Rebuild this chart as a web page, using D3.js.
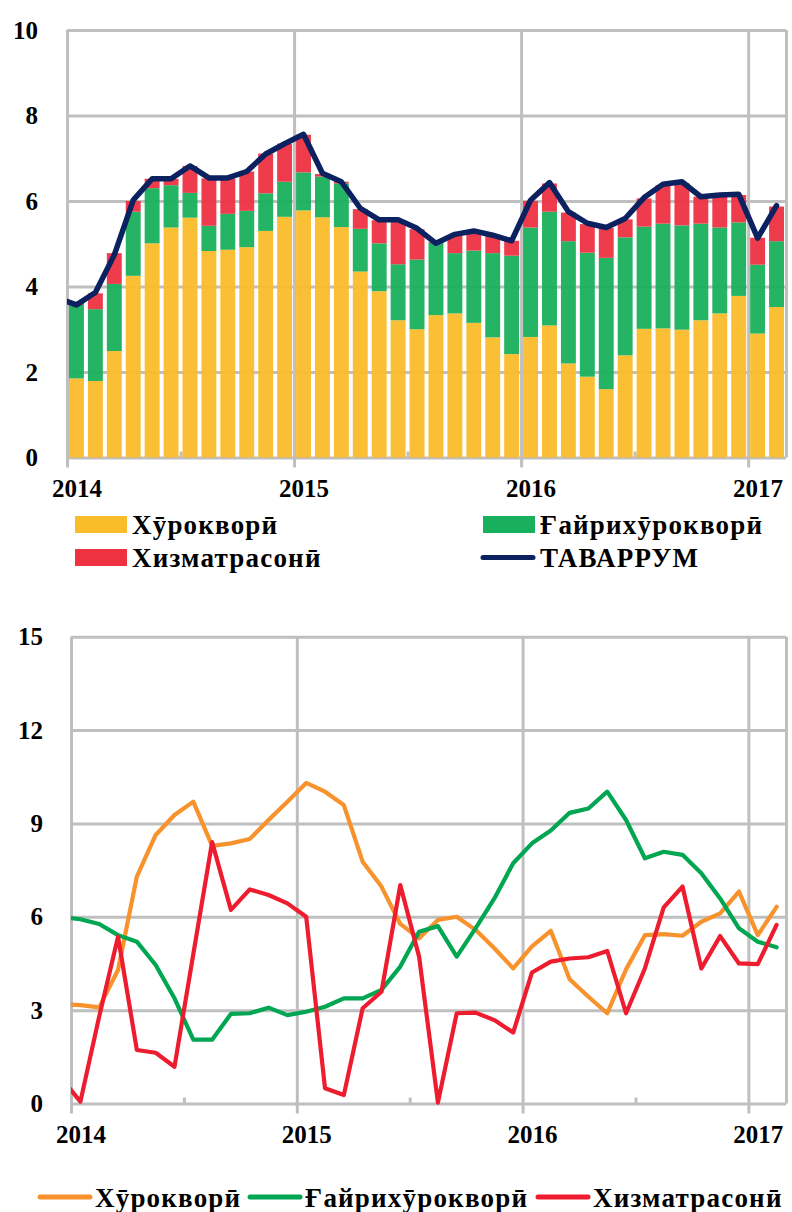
<!DOCTYPE html>
<html>
<head>
<meta charset="utf-8">
<script src="https://cdn.jsdelivr.net/npm/d3@7"></script>
<style>
  body { margin: 0; background: #fff; }
  svg { display: block; }
  text { font-family: "Liberation Serif", "DejaVu Serif", serif; font-weight: bold; fill: #000; }
  .legend text { font-size: 27px; letter-spacing: 1.2px; }
</style>
</head>
<body>
<svg id="chart" width="792" height="1212"></svg>
<script>
// months Jan 2014 .. Feb 2017
const months = [
  '2014-01','2014-02','2014-03','2014-04','2014-05','2014-06','2014-07','2014-08','2014-09','2014-10','2014-11','2014-12',
  '2015-01','2015-02','2015-03','2015-04','2015-05','2015-06','2015-07','2015-08','2015-09','2015-10','2015-11','2015-12',
  '2016-01','2016-02','2016-03','2016-04','2016-05','2016-06','2016-07','2016-08','2016-09','2016-10','2016-11','2016-12',
  '2017-01','2017-02'
];
const years = ['2014', '2015', '2016', '2017'];
const yearStart = [0, 12, 24, 36];   // month index of each January
const midYear = [6, 18, 30];

// top chart: contributions (stacked)
const food = [1.85,1.79,2.49,4.25,5.01,5.38,5.61,4.83,4.86,4.92,5.30,5.63,5.78,
  5.62,5.39,4.35,3.89,3.21,3.00,3.33,3.37,3.15,2.81,2.42,2.82,
  3.09,2.20,1.89,1.60,2.39,3.01,3.02,2.99,3.21,3.37,3.78,2.90,3.52];
const nonfood = [1.72,1.68,1.57,1.50,1.29,0.99,0.58,0.59,0.84,0.85,0.88,0.82,0.89,
  0.95,1.02,1.00,1.12,1.31,1.63,1.69,1.41,1.69,1.97,2.30,2.56,
  2.66,2.86,2.90,3.07,2.76,2.39,2.45,2.44,2.26,2.01,1.72,1.61,1.54];
const services = [0.05,0.37,0.72,0.25,0.22,0.15,0.63,1.11,0.83,0.92,0.93,0.89,0.88,
  0.06,0.04,0.46,0.54,1.03,0.71,0.02,0.42,0.46,0.41,0.35,0.62,
  0.66,0.67,0.67,0.70,0.42,0.66,0.90,0.99,0.63,0.74,0.64,0.63,0.81];
// headline inflation, first value is Dec 2013 (cut off at the axis)
const total = [3.73,
  3.57,3.86,4.74,6.02,6.52,6.52,6.82,6.54,6.54,6.69,7.10,7.34,7.56,
  6.65,6.45,5.83,5.56,5.56,5.36,5.01,5.22,5.30,5.20,5.07,6.02,
  6.43,5.75,5.48,5.38,5.59,6.08,6.39,6.45,6.10,6.14,6.16,5.13,5.89];

// bottom chart: y/y by component, first value is Dec 2013
const foodYoY = [3.2,
  3.16,3.09,4.29,7.29,8.63,9.27,9.70,8.28,8.36,8.50,9.11,9.70,10.30,
  10.02,9.59,7.77,6.97,5.77,5.31,5.90,6.00,5.58,4.99,4.34,5.05,
  5.55,3.99,3.43,2.90,4.31,5.41,5.44,5.39,5.84,6.11,6.81,5.41,6.32];
const nonfoodYoY = [6.0,
  5.92,5.77,5.41,5.20,4.45,3.38,2.05,2.05,2.88,2.90,3.08,2.84,2.95,
  3.11,3.38,3.38,3.65,4.40,5.52,5.70,4.72,5.63,6.59,7.72,8.36,
  8.77,9.34,9.48,10.02,9.11,7.88,8.09,7.99,7.40,6.59,5.63,5.20,5.02];
const servicesYoY = [0.8,
  0.06,2.8,5.36,1.72,1.63,1.18,4.8,8.40,6.22,6.88,6.70,6.43,6.00,
  0.49,0.27,3.06,3.59,7.02,4.72,0.03,2.90,2.92,2.68,2.28,4.21,
  4.56,4.66,4.70,4.90,2.90,4.34,6.30,6.97,4.34,5.38,4.50,4.48,5.74];

const topTicks = [0, 2, 4, 6, 8, 10];
const bottomTicks = [0, 3, 6, 9, 12, 15];

const names = ['Хӯрокворӣ', 'Ғайрихӯрокворӣ', 'Хизматрасонӣ', 'ТАВАРРУМ'];

const barColors = ['#FBBC2A', '#18B05C', '#EE3242'];
const navy = '#0B2160';
const lineColors = ['#F7922D', '#00A651', '#ED1C2E'];
const gridColor = '#BFBFBF';

const svg = d3.select('#chart');

function frame(g, x, y, ticks, box, labelPad) {
  const w = box.right - box.left, h = box.bottom - box.top;

  // horizontal grid
  g.append('g')
    .attr('transform', `translate(${box.left},0)`)
    .call(d3.axisLeft(y).tickValues(ticks).tickSize(-w).tickFormat(''))
    .call(a => a.select('.domain').remove())
    .selectAll('line').attr('stroke', gridColor).attr('stroke-width', 3);

  // year lines, running a bit below the axis
  g.append('g')
    .attr('transform', `translate(0,${box.bottom})`)
    .call(d3.axisBottom(x).tickValues(yearStart).tickSize(-h).tickFormat(''))
    .call(a => a.select('.domain').remove())
    .selectAll('line').attr('stroke', gridColor).attr('stroke-width', 3).attr('y1', 10);

  // right border
  g.append('g')
    .attr('transform', `translate(0,${box.bottom})`)
    .call(d3.axisBottom(x).tickValues([months.length]).tickSize(-h).tickFormat(''))
    .call(a => a.select('.domain').remove())
    .selectAll('line').attr('stroke', gridColor).attr('stroke-width', 3);

  // mid-year ticks
  g.append('g')
    .attr('transform', `translate(0,${box.bottom})`)
    .call(d3.axisBottom(x).tickValues(midYear).tickSize(-6).tickFormat(''))
    .call(a => a.select('.domain').remove())
    .selectAll('line').attr('stroke', gridColor).attr('stroke-width', 3);

  // year labels, centred on January
  g.append('g')
    .attr('transform', `translate(0,${box.bottom})`)
    .call(d3.axisBottom(x).tickValues(yearStart.map(d => d + 0.5)).tickSize(0).tickFormat((d, i) => years[i]))
    .call(a => a.select('.domain').remove())
    .selectAll('text')
    .attr('y', 39).attr('dy', 0)
    .style('font-size', '25px').style('font-family', null);

  // value labels
  g.append('g')
    .attr('transform', `translate(${box.left},0)`)
    .call(d3.axisLeft(y).tickValues(ticks).tickSize(0).tickPadding(labelPad))
    .call(a => a.select('.domain').remove())
    .selectAll('text')
    .style('font-size', '25px').style('font-family', null);

  g.selectAll('.tick text').attr('fill', '#000');
}

// ---------- top chart ----------
const T = { left: 67, right: 786, top: 30, bottom: 457.5 };
const xTop = d3.scaleLinear().domain([0, months.length]).range([T.left, T.right]);
const yTop = d3.scaleLinear().domain([0, 10]).range([T.bottom, T.top]);

const gTop = svg.append('g');
const rows = months.map((m, i) => ({ i, food: food[i], nonfood: nonfood[i], services: services[i] }));
const stack = d3.stack().keys(['food', 'nonfood', 'services'])(rows);

frame(gTop, xTop, yTop, topTicks, T, 29);

gTop.append('g')
  .selectAll('g')
  .data(stack)
  .join('g')
  .attr('fill', (d, k) => barColors[k])
  .attr('fill-opacity', 0.95)
  .selectAll('rect')
  .data(d => d)
  .join('rect')
  .attr('x', d => xTop(d.data.i) + 2)
  .attr('width', d => xTop(d.data.i + 1) - xTop(d.data.i) - 4)
  .attr('y', d => yTop(d[1]))
  .attr('height', d => yTop(d[0]) - yTop(d[1]));

svg.append('clipPath').attr('id', 'clipTop')
  .append('rect').attr('x', T.left).attr('y', 0).attr('width', T.right - T.left).attr('height', T.bottom);

const lineTop = d3.line()
  .x((d, i) => xTop(i - 0.5))
  .y(d => yTop(d));

gTop.append('path')
  .datum(total)
  .attr('clip-path', 'url(#clipTop)')
  .attr('fill', 'none')
  .attr('stroke', navy)
  .attr('stroke-width', 5.5)
  .attr('stroke-linejoin', 'round')
  .attr('stroke-linecap', 'round')
  .attr('d', lineTop);

// legend, top chart
const legTop = svg.append('g').attr('class', 'legend');
[[75, 516, 0], [483, 516, 1], [75, 549, 2]].forEach(([lx, ly, k]) => {
  legTop.append('rect').attr('x', lx).attr('y', ly).attr('width', 52).attr('height', 17).attr('fill', barColors[k]);
  legTop.append('text').attr('x', lx + 57).attr('y', ly + 18).text(names[k]);
});
legTop.append('line')
  .attr('x1', 483).attr('x2', 533).attr('y1', 557.5).attr('y2', 557.5)
  .attr('stroke', navy).attr('stroke-width', 5).attr('stroke-linecap', 'round');
legTop.append('text').attr('x', 540).attr('y', 567).text(names[3]);

// ---------- bottom chart ----------
const B = { left: 71, right: 786, top: 636.7, bottom: 1103.5 };
const xBot = d3.scaleLinear().domain([0, months.length]).range([B.left, B.right]);
const yBot = d3.scaleLinear().domain([0, 15]).range([B.bottom, B.top]);

const gBot = svg.append('g');
frame(gBot, xBot, yBot, bottomTicks, B, 28);

svg.append('clipPath').attr('id', 'clipBot')
  .append('rect').attr('x', B.left).attr('y', B.top - 20).attr('width', B.right - B.left).attr('height', B.bottom - B.top + 30);

const lineBot = d3.line()
  .x((d, i) => xBot(i - 0.5))
  .y(d => yBot(d));

[foodYoY, nonfoodYoY, servicesYoY].forEach((series, k) => {
  gBot.append('path')
    .datum(series)
    .attr('clip-path', 'url(#clipBot)')
    .attr('fill', 'none')
    .attr('stroke', lineColors[k])
    .attr('stroke-width', 4.2)
    .attr('stroke-linejoin', 'round')
    .attr('stroke-linecap', 'round')
    .attr('d', lineBot);
});

// legend, bottom chart
const legBot = svg.append('g').attr('class', 'legend');
[[38, 0], [248, 1], [536, 2]].forEach(([lx, k]) => {
  legBot.append('line')
    .attr('x1', lx + 2).attr('x2', lx + 52).attr('y1', 1197).attr('y2', 1197)
    .attr('stroke', lineColors[k]).attr('stroke-width', 5).attr('stroke-linecap', 'round');
  legBot.append('text').attr('x', lx + 57).attr('y', 1207).text(names[k]);
});
</script>
</body>
</html>
